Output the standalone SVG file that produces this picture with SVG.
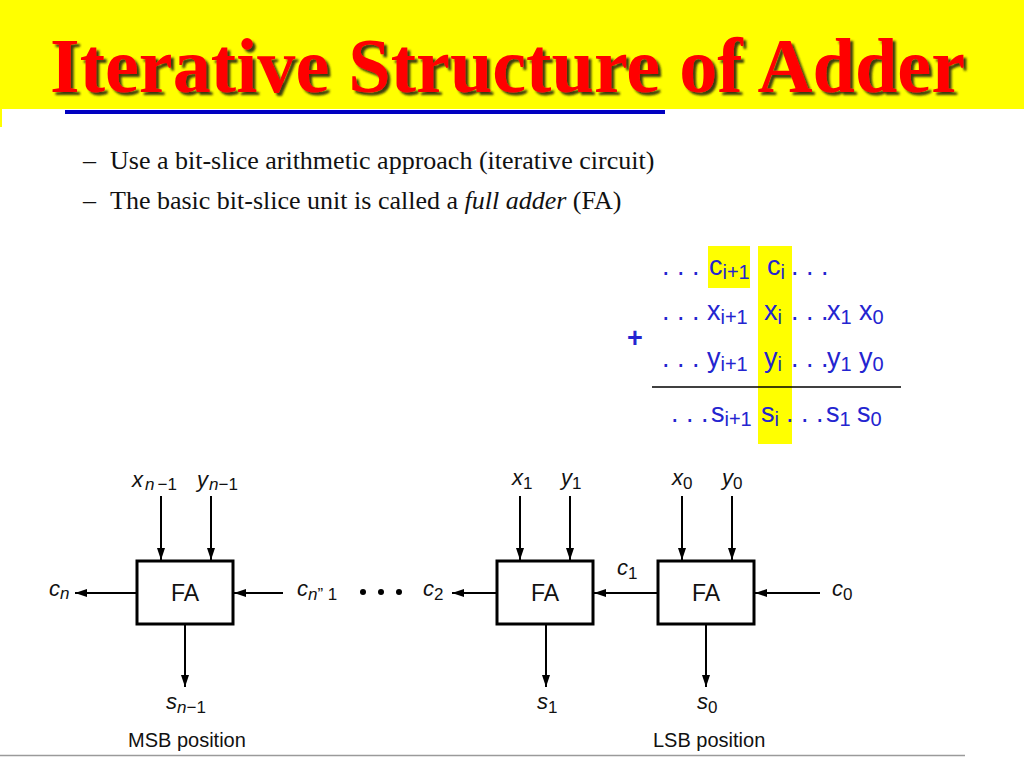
<svg xmlns="http://www.w3.org/2000/svg" width="1024" height="768" viewBox="0 0 1024 768">
<defs>
<marker id="ah" viewBox="0 0 12 8" refX="12" refY="4" markerWidth="12" markerHeight="8" markerUnits="userSpaceOnUse" orient="auto">
<path d="M0,0 L12,4 L0,8 z" fill="#000"/>
</marker>
<filter id="shadow" x="-5%" y="-20%" width="110%" height="140%">
<feDropShadow dx="3" dy="3" stdDeviation="0.8" flood-color="#2a2a10" flood-opacity="0.9"/>
</filter>
</defs>
<style>
.title{font-family:"Liberation Serif","Times New Roman",serif;font-weight:bold;font-size:78px}
.bul{font-family:"Liberation Serif","Times New Roman",serif;font-size:26px;fill:#111}
.m{font-family:"Liberation Sans",Arial,sans-serif;font-size:27px;fill:#2424d0}
.ms{font-size:20px}
.lab{font-family:"Liberation Sans",Arial,sans-serif;font-size:22px;font-style:italic;fill:#111}
.sub{font-size:17px}
.up{font-style:normal}
.fa{font-family:"Liberation Sans",Arial,sans-serif;font-size:23px;fill:#111}
.pos{font-family:"Liberation Sans",Arial,sans-serif;font-size:20px;fill:#111}
.box{fill:#fff;stroke:#000;stroke-width:3}
.wire{stroke:#000;stroke-width:2;fill:none;marker-end:url(#ah)}
</style>
<rect x="0" y="0" width="1024" height="768" fill="#fff"/>
<rect x="0" y="0" width="1024" height="109" fill="#ffff00"/>
<rect x="0" y="109" width="2" height="18" fill="#ffff00"/>
<text class="title" x="50" y="92" fill="#ff0000" filter="url(#shadow)" textLength="915" lengthAdjust="spacingAndGlyphs">Iterative Structure of Adder</text>
<rect x="65" y="110" width="600" height="4" fill="#0000c0"/>

<text class="bul" x="83" y="169">–</text>
<text class="bul" x="110" y="169">Use a bit-slice arithmetic approach (iterative circuit)</text>
<text class="bul" x="83" y="209">–</text>
<text class="bul" x="110" y="209">The basic bit-slice unit is called a <tspan font-style="italic">full adder</tspan> (FA)</text>

<g id="sum">
<rect x="708" y="246" width="42" height="42" fill="#ffff00"/>
<rect x="758" y="246" width="34" height="198" fill="#ffff00"/>
<line x1="652" y1="387" x2="901" y2="387" stroke="#000" stroke-width="1.5"/>
<text class="m" x="627" y="347" font-weight="bold" font-size="25">+</text>
<text class="m" x="662" y="275">. . .</text>
<text class="m" x="709" y="275">c<tspan class="ms" dy="4">i+1</tspan></text>
<text class="m" x="767" y="275">c<tspan class="ms" dy="4">i</tspan></text>
<text class="m" x="791" y="275">. . .</text>
<text class="m" x="662" y="320">. . .</text>
<text class="m" x="707" y="320">x<tspan class="ms" dy="4">i+1</tspan></text>
<text class="m" x="764" y="320">x<tspan class="ms" dy="4">i</tspan></text>
<text class="m" x="791" y="320">. . .</text>
<text class="m" x="827" y="320">x<tspan class="ms" dy="4">1</tspan></text>
<text class="m" x="859" y="320">x<tspan class="ms" dy="4">0</tspan></text>
<text class="m" x="662" y="367">. . .</text>
<text class="m" x="707" y="367">y<tspan class="ms" dy="4">i+1</tspan></text>
<text class="m" x="764" y="367">y<tspan class="ms" dy="4">i</tspan></text>
<text class="m" x="791" y="367">. . .</text>
<text class="m" x="827" y="367">y<tspan class="ms" dy="4">1</tspan></text>
<text class="m" x="859" y="367">y<tspan class="ms" dy="4">0</tspan></text>
<text class="m" x="671" y="422">. . .</text>
<text class="m" x="711" y="422">s<tspan class="ms" dy="4">i+1</tspan></text>
<text class="m" x="761" y="422">s<tspan class="ms" dy="4">i</tspan></text>
<text class="m" x="786" y="422">. . .</text>
<text class="m" x="826" y="422">s<tspan class="ms" dy="4">1</tspan></text>
<text class="m" x="857" y="422">s<tspan class="ms" dy="4">0</tspan></text>
</g>

<g id="connectors">
<line class="wire" x1="161" y1="496" x2="161" y2="560"/>
<line class="wire" x1="211" y1="496" x2="211" y2="560"/>
<line class="wire" x1="137" y1="593" x2="75" y2="593"/>
<line class="wire" x1="283" y1="593" x2="234" y2="593"/>
<line class="wire" x1="185" y1="624" x2="185" y2="687"/>
<line class="wire" x1="497" y1="593" x2="452" y2="593"/>
<line class="wire" x1="520" y1="496" x2="520" y2="560"/>
<line class="wire" x1="570" y1="496" x2="570" y2="560"/>
<line class="wire" x1="658" y1="593" x2="594" y2="593"/>
<line class="wire" x1="682" y1="496" x2="682" y2="560"/>
<line class="wire" x1="732" y1="496" x2="732" y2="560"/>
<line class="wire" x1="820" y1="593" x2="755" y2="593"/>
<line class="wire" x1="546" y1="624" x2="546" y2="687"/>
<line class="wire" x1="706" y1="624" x2="706" y2="687"/>
</g>

<g id="fa-msb">
<rect class="box" x="137" y="561" width="96" height="63"/>
<text class="fa" x="185" y="601" text-anchor="middle">FA</text>
</g>
<g id="fa-1">
<rect class="box" x="497" y="561" width="96" height="63"/>
<text class="fa" x="545" y="601" text-anchor="middle">FA</text>
</g>
<g id="fa-0">
<rect class="box" x="658" y="561" width="96" height="63"/>
<text class="fa" x="706" y="601" text-anchor="middle">FA</text>
</g>

<g id="labels">
<text class="lab" x="132" y="487">x<tspan class="sub" dy="3" dx="2">n</tspan><tspan class="sub up" dx="3">−1</tspan></text>
<text class="lab" x="197" y="487">y<tspan class="sub" dy="3" dx="1">n</tspan><tspan class="sub up">−1</tspan></text>
<text class="lab" x="49" y="596">c<tspan class="sub" dy="3">n</tspan></text>
<text class="lab" x="297" y="596">c<tspan class="sub" dy="4">n</tspan><tspan class="sub up">” 1</tspan></text>
<circle cx="363" cy="592" r="3" fill="#000"/>
<circle cx="381" cy="592" r="3" fill="#000"/>
<circle cx="399" cy="592" r="3" fill="#000"/>
<text class="lab" x="423" y="596">c<tspan class="sub up" dy="4">2</tspan></text>
<text class="lab" x="166" y="709">s<tspan class="sub" dy="4">n</tspan><tspan class="sub up">−1</tspan></text>
<text class="lab" x="512" y="485">x<tspan class="sub up" dy="4">1</tspan></text>
<text class="lab" x="561" y="485">y<tspan class="sub up" dy="4">1</tspan></text>
<text class="lab" x="672" y="485">x<tspan class="sub up" dy="4">0</tspan></text>
<text class="lab" x="722" y="485">y<tspan class="sub up" dy="4">0</tspan></text>
<text class="lab" x="617" y="575">c<tspan class="sub up" dy="4">1</tspan></text>
<text class="lab" x="832" y="596">c<tspan class="sub up" dy="4">0</tspan></text>
<text class="lab" x="537" y="709">s<tspan class="sub up" dy="4">1</tspan></text>
<text class="lab" x="697" y="709">s<tspan class="sub up" dy="4">0</tspan></text>
<text class="pos" x="128" y="747">MSB position</text>
<text class="pos" x="653" y="747">LSB position</text>
</g>
<line x1="0" y1="755.5" x2="965" y2="755.5" stroke="#9a9a9a" stroke-width="1.5"/>
</svg>
